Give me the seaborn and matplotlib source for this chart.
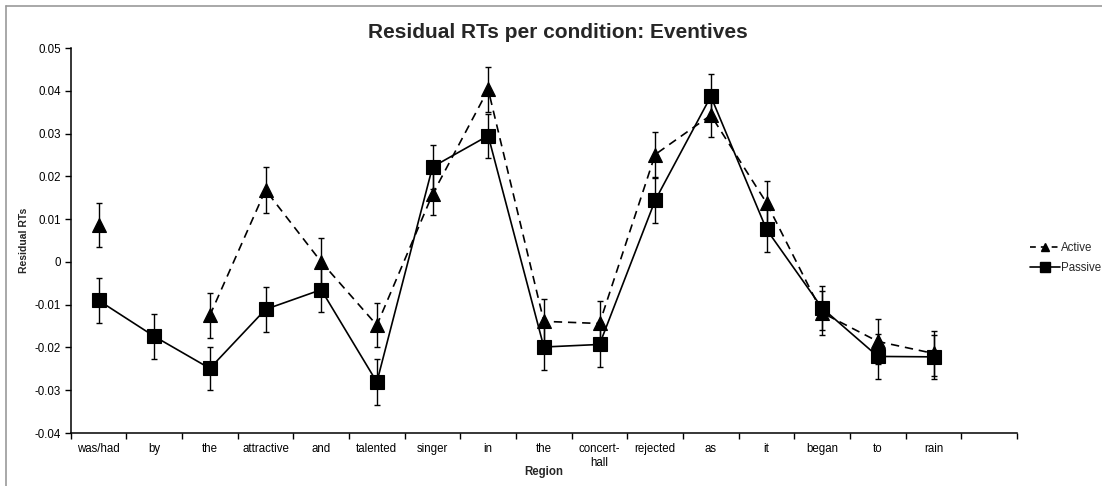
import numpy as np
import pandas as pd
import matplotlib
matplotlib.use("Agg")
import matplotlib.pyplot as plt
from matplotlib.lines import Line2D
from matplotlib.ticker import FixedLocator, FuncFormatter, NullFormatter
import seaborn as sns

# ---- data ----
regions = ["was/had", "by", "the", "attractive", "and", "talented", "singer", "in",
           "the", "concert-\nhall", "rejected", "as", "it", "began", "to", "rain"]
active = [0.0086, np.nan, -0.0125, 0.0168, 0.0000, -0.0148, 0.0158, 0.0403,
          -0.0139, -0.0144, 0.0251, 0.0343, 0.0138, -0.0119, -0.0186, -0.0214]
passive = [-0.0090, -0.0174, -0.0249, -0.0111, -0.0065, -0.0281, 0.0222, 0.0295,
           -0.0199, -0.0193, 0.0144, 0.0387, 0.0076, -0.0108, -0.0221, -0.0222]
active_err = [0.0051, np.nan, 0.0052, 0.0053, 0.0055, 0.0051, 0.0049, 0.0053,
              0.0052, 0.0052, 0.0052, 0.0052, 0.0052, 0.0052, 0.0052, 0.0052]
passive_err = [0.0053, 0.0053, 0.0051, 0.0052, 0.0053, 0.0053, 0.0051, 0.0051,
               0.0053, 0.0053, 0.0052, 0.0052, 0.0052, 0.0052, 0.0052, 0.0051]
conditions = ["Active", "Passive"]
yticks = [-0.04, -0.03, -0.02, -0.01, 0.0, 0.01, 0.02, 0.03, 0.04, 0.05]
title = "Residual RTs per condition: Eventives"

# ---- style ----
sns.set_style("white")
plt.rcParams["font.family"] = ["Liberation Sans", "DejaVu Sans"]

fig = plt.figure(figsize=(11.02, 4.86), dpi=100)
ax = fig.add_axes([70.7 / 1102, 1 - 433 / 486, (1017 - 70.7) / 1102, (433 - 48) / 486])

pos = np.arange(len(regions))
frames = []
for cond, vals in zip(conditions, [active, passive]):
    v = np.asarray(vals, dtype=float)
    seg = np.cumsum(np.isnan(v))
    frames.append(pd.DataFrame({"pos": pos, "value": v, "condition": cond,
                                "unit": [f"{cond}{s}" for s in seg]}))
df = pd.concat(frames, ignore_index=True).dropna()

# error bars
for vals, errs in [(active, active_err), (passive, passive_err)]:
    ax.errorbar(pos, vals, yerr=errs, fmt="none", ecolor="black",
                elinewidth=1.0, capsize=2.3, capthick=1.0, zorder=2)

sns.lineplot(data=df, x="pos", y="value", style="condition", units="unit",
             estimator=None, sort=False, ax=ax, color="black",
             markers={"Active": "^", "Passive": "s"},
             dashes={"Active": (5, 3.5), "Passive": ""},
             style_order=conditions,
             markersize=9.5, linewidth=1.2, markeredgecolor="black",
             markeredgewidth=0.8, legend=False, zorder=3)

# axes
ax.set_xlim(-0.5, len(regions) + 0.5)
ax.set_ylim(-0.04, 0.05)
ax.xaxis.set_major_locator(FixedLocator(np.arange(-0.5, len(regions) + 1, 1.0)))
ax.xaxis.set_major_formatter(NullFormatter())
ax.xaxis.set_minor_locator(FixedLocator(pos))
ax.set_xticklabels(regions, minor=True)
ax.tick_params(axis="x", which="major", direction="out", length=4, width=1, color="black", bottom=True)
ax.tick_params(axis="x", which="minor", length=0, pad=7, labelsize=8.3, labelcolor="black")
ax.set_yticks(yticks)
ax.yaxis.set_major_formatter(FuncFormatter(lambda v, p: f"{v:g}" if abs(v) > 1e-9 else "0"))
ax.tick_params(axis="y", direction="out", length=4, width=1, color="black", left=True,
               labelsize=8.3, pad=3, labelcolor="black")
for s in ["top", "right"]:
    ax.spines[s].set_visible(False)
for s in ["left", "bottom"]:
    ax.spines[s].set_color("black")
    ax.spines[s].set_linewidth(1.1)
ax.grid(False)

ax.set_xlabel("Region", fontsize=8.3, fontweight="bold", va="top")
ax.xaxis.set_label_coords(0.5, -0.086)
ax.set_ylabel("Residual RTs", fontsize=7.5, fontweight="bold", va="center")
ax.yaxis.set_label_coords(-0.049, 0.5)

fig.text(558 / 1102, 1 - 33 / 486, title, ha="center", va="center",
         fontsize=15, fontweight="bold")

# legend
handles = [
    Line2D([], [], color="black", linestyle=(0, (3.5, 3)), linewidth=1.2,
           marker="^", markersize=5.5),
    Line2D([], [], color="black", linestyle="-", linewidth=1.2,
           marker="s", markersize=7),
]
fig.legend(handles, conditions, loc="center left",
           bbox_to_anchor=(1024 / 1102, 1 - 258 / 486), frameon=False,
           fontsize=8.3, handlelength=2.6, handletextpad=0.1, labelspacing=0.7,
           borderpad=0)

# chart-area border (top and left visible)
fig.add_artist(Line2D([6 / 1102, 1.0], [1 - 6 / 486, 1 - 6 / 486],
                      transform=fig.transFigure, color="#999999", linewidth=1.2))
fig.add_artist(Line2D([6 / 1102, 6 / 1102], [0.0, 1 - 6 / 486],
                      transform=fig.transFigure, color="#999999", linewidth=1.2))

fig.savefig("out.png", dpi=100, facecolor="white")
